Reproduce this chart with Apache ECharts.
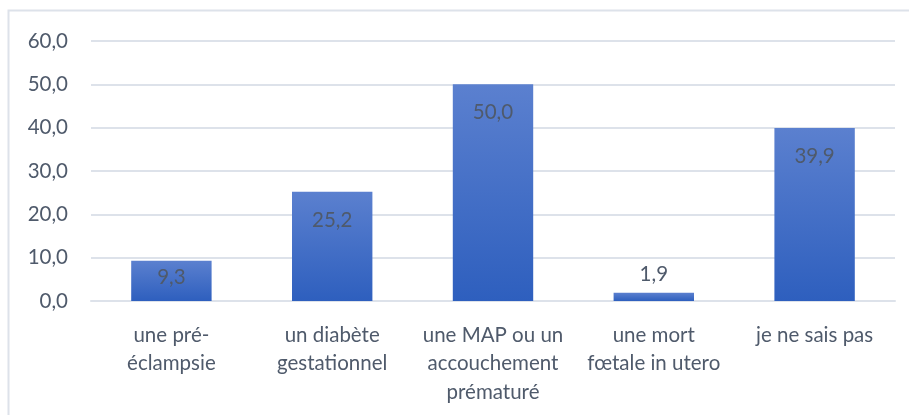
<!DOCTYPE html>
<html>
<head>
<meta charset="utf-8">
<script src="https://cdn.jsdelivr.net/npm/echarts@6/dist/echarts.min.js"></script>
<style>
  html, body { margin: 0; padding: 0; background: #fff; }
  #chart { width: 909px; height: 415px; }
</style>
</head>
<body>
<div id="chart"></div>
<script>
const categories = [
  'une pré-\néclampsie',
  'un diabète\ngestationnel',
  'une MAP ou un\naccouchement\nprématuré',
  'une mort\nfœtale in utero',
  'je ne sais pas'
]
const values = [9.3, 25.2, 50.0, 1.9, 39.9]

const fmt = v => v.toFixed(1).replace('.', ',')
const textColor = '#4f5a6b'
const font = 'Lato, "Open Sans", sans-serif'
const fontSize = 20.5

// label placement like Excel: tiny bars outside, short bars tight, others inside end
const labelFor = v => {
  if (v < 5) return { position: 'top', distance: 8 }
  if (v < 15) return { position: 'insideTop', distance: 6 }
  return { position: 'insideTop', distance: 18 }
}

const chart = echarts.init(document.getElementById('chart'))

chart.setOption({
  animation: false,
  textStyle: { fontFamily: font },
  graphic: [{
    type: 'rect',
    shape: { x: 8.5, y: 10.5, width: 1000, height: 600 },
    style: { fill: 'none', stroke: '#dde2ea', lineWidth: 2 },
    silent: true
  }],
  grid: { left: 91, right: 14, top: 41, bottom: 114 },
  xAxis: {
    type: 'category',
    data: categories,
    axisLine: { lineStyle: { color: '#dde2ea', width: 2 } },
    axisTick: { show: false },
    axisLabel: {
      interval: 0,
      color: textColor,
      fontSize: fontSize,
      lineHeight: 28.5,
      margin: 20,
      fontFamily: font
    }
  },
  yAxis: {
    type: 'value',
    min: 0,
    max: 60,
    interval: 10,
    axisLine: { show: false },
    axisTick: { show: false },
    splitLine: { lineStyle: { color: '#dde2ea', width: 2 } },
    axisLabel: {
      color: textColor,
      fontSize: fontSize,
      margin: 23,
      fontFamily: font,
      formatter: fmt
    }
  },
  series: [{
    type: 'bar',
    barWidth: '50%',
    data: values.map(v => ({ value: v, label: labelFor(v) })),
    itemStyle: {
      color: new echarts.graphic.LinearGradient(0, 0, 0, 1, [
        { offset: 0, color: '#5b80cf' },
        { offset: 1, color: '#2e5fbe' }
      ])
    },
    label: {
      show: true,
      color: textColor,
      fontSize: fontSize,
      fontFamily: font,
      formatter: p => fmt(p.value)
    }
  }]
})
</script>
</body>
</html>
